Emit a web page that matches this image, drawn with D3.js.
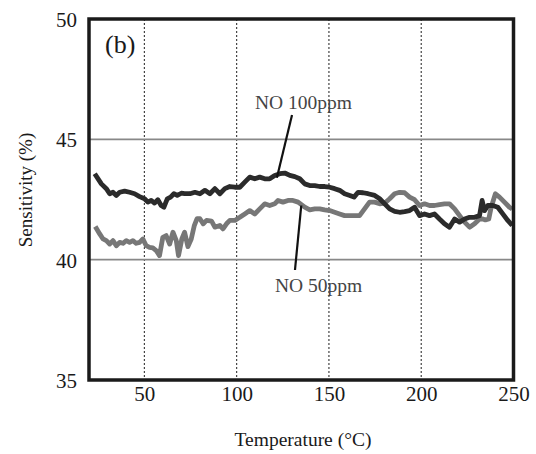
<!DOCTYPE html>
<html>
<head>
<meta charset="utf-8">
<script src="https://cdn.jsdelivr.net/npm/d3@7"></script>
<style>
  html, body { margin: 0; padding: 0; background: #fff; }
  svg { display: block; }
  text { font-family: "Liberation Serif", "Times New Roman", serif; }
</style>
</head>
<body>
<svg id="chart" width="536" height="454"></svg>
<script>
// ---- data ----
const xTicks = [50, 100, 150, 200, 250];
const yTicks = [35, 40, 45, 50];
const hGrid = [40, 45];
const vGrid = [50, 100, 150, 200];

const no100Temp = [23.1,26.7,29.4,31.2,33,34.8,36.6,39.3,42,44.7,47.4,50.1,51.9,53.7,55.5,57.3,59.1,60.6,62.4,64.2,66,67.8,70,71.8,74.7,77.4,80.1,82.8,85.5,88.2,90.9,93.6,96.3,99,101.7,104.4,107.1,109.8,112.5,115.2,117.9,120.6,123.4,126.1,128.8,131.5,134.2,136.9,139.6,142.3,145,147.7,150.4,153.1,155.8,158.5,161.3,163.6,165.8,168.5,171.2,174.8,177.5,180.2,182.9,185.6,188.3,191,193.7,196.4,199.1,201.8,204.5,207.2,209.9,212.6,215.3,218.1,220.8,223.5,226.2,228.9,231.6,233,234.3,236.1,238.8,241.5,244.2,246.9,249.3];
const no100Value = [43.57,43.15,42.95,42.74,42.8,42.67,42.8,42.85,42.8,42.74,42.62,42.53,42.39,42.46,42.35,42.49,42.25,42.18,42.53,42.6,42.74,42.67,42.76,42.74,42.74,42.8,42.74,42.88,42.74,42.95,42.74,42.95,43.04,43.01,43.01,43.22,43.43,43.36,43.43,43.36,43.36,43.5,43.57,43.6,43.5,43.45,43.36,43.15,43.08,43.08,43.04,43.04,43.01,42.95,42.88,42.74,42.67,42.6,42.8,42.78,42.74,42.67,42.53,42.32,42.11,42.01,41.97,42.0,42.04,42.18,41.83,41.9,41.83,41.9,41.69,41.49,41.35,41.69,41.56,41.69,41.76,41.76,41.83,42.46,42.04,42.25,42.25,42.18,41.9,41.63,41.42];

const no50Temp = [23.4,25.8,27.6,29.4,31.2,33,34.8,36.6,38.4,40.2,42,43.8,45.6,47.4,49.2,51,52.8,54.6,56.4,58.2,60,61.8,63.7,65.5,67.3,68.5,70.3,71.8,73.6,75.4,77,78.5,80.1,81.9,83.7,86.4,88.2,90.9,92.6,94.5,96.3,99,101.7,104.4,107.1,109.8,112.5,115.2,117.9,120.6,122.4,125.1,127.8,130.5,133.3,136.9,139.6,142.3,145,147.7,150.4,153.1,155.8,158.5,161.3,163.9,166.6,169.3,172,174.8,177.5,180.2,182.9,185.6,188.3,191,193.7,196.4,199.1,201.8,204.5,207.2,209.9,212.6,215.3,218.1,220.8,223.5,226.2,228.9,231.6,233.4,234.8,236.6,237.9,240.2,242.4,245.1,247.8,249.3];
const no50Value = [41.38,41.07,40.86,40.79,40.65,40.79,40.58,40.72,40.68,40.79,40.72,40.79,40.68,40.72,40.86,40.58,40.51,40.49,40.38,40.17,40.93,41.0,40.65,41.14,40.79,40.17,40.86,41.14,40.54,40.86,41.4,41.7,41.7,41.49,41.63,41.6,41.35,41.42,41.28,41.49,41.63,41.63,41.76,41.9,42.04,41.9,42.11,42.32,42.25,42.32,42.46,42.39,42.46,42.46,42.39,42.18,42.07,42.11,42.11,42.07,42.04,41.97,41.9,41.83,41.83,41.83,41.83,42.11,42.39,42.39,42.32,42.35,42.53,42.74,42.8,42.78,42.6,42.49,42.25,42.32,42.25,42.25,42.29,42.32,42.32,42.11,41.83,41.56,41.35,41.49,41.69,41.69,41.65,41.69,42.18,42.74,42.6,42.39,42.18,42.11];

const seriesNames = ["NO 100ppm", "NO 50ppm"];
const xTitle = "Temperature (°C)";
const yTitle = "Sensitivity (%)";
const panelLabel = "(b)";

// ---- layout ----
const svg = d3.select("#chart");
const L = 89, T = 19, R = 513.5, B = 380;
const x = d3.scaleLinear().domain([20, 250]).range([L, R]);
const y = d3.scaleLinear().domain([35, 50]).range([B, T]);

// grid
svg.append("g").selectAll("line").data(vGrid).join("line")
  .attr("x1", d => x(d)).attr("x2", d => x(d))
  .attr("y1", T).attr("y2", B)
  .attr("stroke", "#333").attr("stroke-width", 1.1)
  .attr("stroke-dasharray", "2,2");
svg.append("g").selectAll("line").data(hGrid).join("line")
  .attr("x1", L).attr("x2", R)
  .attr("y1", d => y(d)).attr("y2", d => y(d))
  .attr("stroke", "#888").attr("stroke-width", 1.6);

// lines
const line = d3.line().x(d => x(d[0])).y(d => y(d[1]));
const d100 = no100Temp.map((t, i) => [t, no100Value[i]]);
const d50 = no50Temp.map((t, i) => [t, no50Value[i]]);
svg.append("path").attr("d", line(d50)).attr("fill", "none")
  .attr("stroke", "#777").attr("stroke-width", 4.8).attr("stroke-linejoin", "round");
svg.append("path").attr("d", line(d100)).attr("fill", "none")
  .attr("stroke", "#2b2b2b").attr("stroke-width", 4.8).attr("stroke-linejoin", "round");

// frame
svg.append("rect").attr("x", L).attr("y", T).attr("width", R - L).attr("height", B - T)
  .attr("fill", "none").attr("stroke", "#1a1a1a").attr("stroke-width", 3.5);

// axes
const ax = svg.append("g").attr("transform", `translate(0,${B})`)
  .call(d3.axisBottom(x).tickValues(xTicks).tickSize(0).tickPadding(0));
ax.select(".domain").remove();
ax.selectAll("text").attr("y", 21).attr("dy", 0)
  .style("font-family", "'Liberation Serif', serif").style("font-size", "21px").attr("fill", "#1a1a1a");

const ay = svg.append("g").attr("transform", `translate(${L},0)`)
  .call(d3.axisLeft(y).tickValues(yTicks).tickSize(0).tickPadding(0));
ay.select(".domain").remove();
ay.selectAll("text").attr("x", -12).attr("dy", "0.35em")
  .style("font-family", "'Liberation Serif', serif").style("font-size", "21px").attr("fill", "#1a1a1a");

// titles
svg.append("text").attr("x", 303).attr("y", 446).attr("text-anchor", "middle")
  .style("font-size", "19.5px").attr("fill", "#1a1a1a").text(xTitle);
svg.append("text").attr("transform", "translate(32,190) rotate(-90)").attr("text-anchor", "middle")
  .style("font-size", "19px").attr("fill", "#1a1a1a").text(yTitle);

// panel label
svg.append("text").attr("x", 105).attr("y", 53).style("font-size", "26px")
  .attr("fill", "#1a1a1a").text(panelLabel);

// annotations
svg.append("text").attr("x", 255).attr("y", 109).style("font-size", "19.5px")
  .attr("fill", "#444").text(seriesNames[0]);
svg.append("line").attr("x1", x(130)).attr("y1", 115).attr("x2", x(121.8)).attr("y2", y(43.4))
  .attr("stroke", "#111").attr("stroke-width", 2.2);
svg.append("text").attr("x", 275).attr("y", 292).style("font-size", "19.5px")
  .attr("fill", "#444").text(seriesNames[1]);
svg.append("line").attr("x1", x(135)).attr("y1", y(42.25)).attr("x2", x(131.6)).attr("y2", 270)
  .attr("stroke", "#111").attr("stroke-width", 2.2);
</script>
</body>
</html>
